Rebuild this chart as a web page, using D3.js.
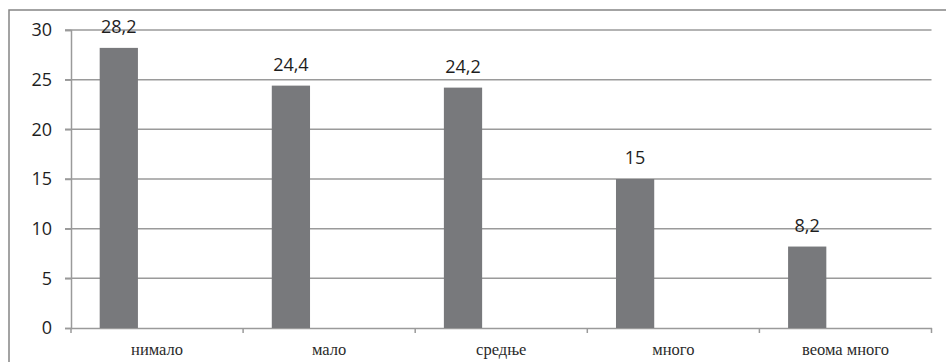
<!DOCTYPE html>
<html><head><meta charset="utf-8">
<script src="https://cdn.jsdelivr.net/npm/d3@7"></script>
<style>body{margin:0;background:#fff}svg{display:block}</style>
</head><body>
<svg id="chart" width="946" height="362"></svg>
<script>
(function(){
const categories = ["нимало", "мало", "средње", "много", "веома много"];
const values = [28.2, 24.4, 24.2, 15, 8.2];
const valueLabels = ["28,2", "24,4", "24,2", "15", "8,2"];
const yTicks = [0, 5, 10, 15, 20, 25, 30];
const seriesSlots = ["s1", "s2", "s3"];

const svg = d3.select("#chart");
const W = 946, H = 362;
const mLeft = 71, mRight = 931.5, mTop = 30, mBottom = 328;

svg.append("rect").attr("x", 9).attr("y", 10).attr("width", W + 10).attr("height", H + 10)
  .attr("fill", "#fff").attr("stroke", "#858585").attr("stroke-width", 1.5);

const x = d3.scaleBand().domain(categories).range([mLeft, mRight]).padding(0);
const y = d3.scaleLinear().domain([0, 30]).range([mBottom, mTop]);
const bw = x.bandwidth() / 4.5;
const xs = d3.scaleBand().domain(seriesSlots).range([0.75 * bw, 3.75 * bw]).padding(0);

// gridlines
svg.append("g").selectAll("line").data(yTicks.filter(d => d > 0)).join("line")
  .attr("x1", mLeft - 6).attr("x2", mRight)
  .attr("y1", d => y(d)).attr("y2", d => y(d))
  .attr("stroke", "#9a9a9a").attr("stroke-width", 1.5);

// y axis
const ya = svg.append("g").attr("transform", `translate(${mLeft},0)`)
  .call(d3.axisLeft(y).tickValues(yTicks).tickSize(6).tickPadding(13).tickFormat(d => d));
ya.select(".domain").attr("stroke", "#9a9a9a").attr("stroke-width", 1.5);
ya.selectAll(".tick line").attr("stroke", "#9a9a9a").attr("stroke-width", 1.5);
ya.selectAll(".tick text").attr("font-family", "Open Sans").attr("font-size", 18).attr("fill", "#1e1e1e");

// x axis
const xa = svg.append("g").attr("transform", `translate(0,${mBottom})`)
  .call(d3.axisBottom(x).tickSize(0).tickPadding(15.5));
xa.select(".domain").attr("stroke", "#9a9a9a").attr("stroke-width", 1.5);
xa.selectAll(".tick text").attr("font-family", "Liberation Serif").attr("font-size", 16.5).attr("fill", "#2a2a2a");
svg.append("g").selectAll("line").data(categories.map(c => x(c)).concat([x(categories[categories.length-1]) + x.bandwidth()])).join("line")
  .attr("x1", d => d).attr("x2", d => d).attr("y1", mBottom).attr("y2", mBottom + 5)
  .attr("stroke", "#9a9a9a").attr("stroke-width", 1.5);

// bars
svg.append("g").selectAll("rect").data(values).join("rect")
  .attr("x", (d, i) => x(categories[i]) + xs("s1"))
  .attr("width", xs.bandwidth())
  .attr("y", d => y(d))
  .attr("height", d => y(0) - y(d))
  .attr("fill", "#78797c");

// value labels
svg.append("g").selectAll("text").data(values).join("text")
  .attr("x", (d, i) => x(categories[i]) + xs("s1") + xs.bandwidth() / 2)
  .attr("y", d => y(d) - 15)
  .attr("text-anchor", "middle")
  .attr("font-family", "Open Sans").attr("font-size", 18).attr("fill", "#1e1e1e")
  .text((d, i) => valueLabels[i]);
})();
</script>
</body></html>
